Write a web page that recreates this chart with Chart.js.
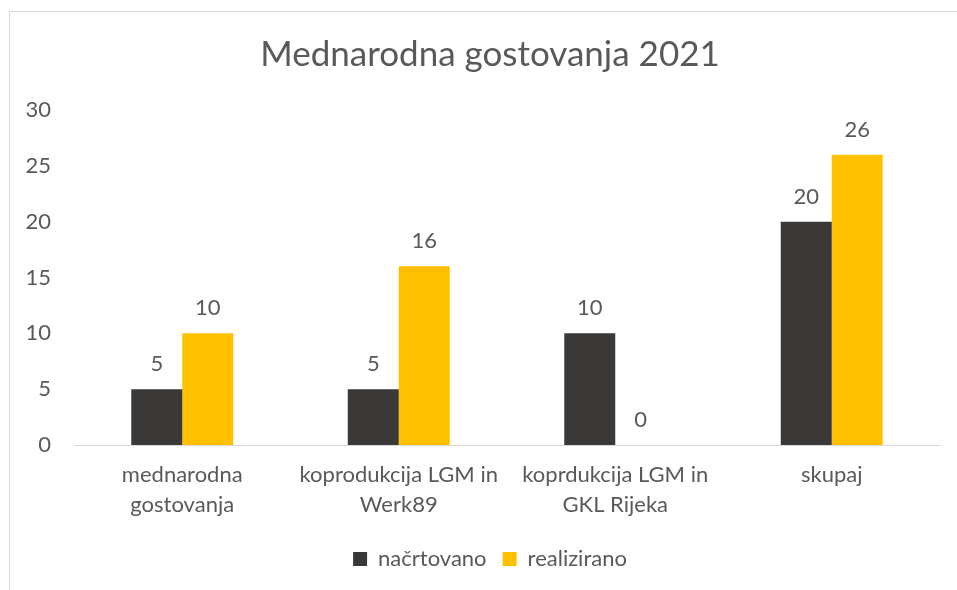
<!DOCTYPE html>
<html>
<head>
<meta charset="utf-8">
<script src="https://cdn.jsdelivr.net/npm/chart.js@4"></script>
<style>
  html, body { margin: 0; padding: 0; background: #fff; overflow: hidden; }
  #wrap { position: relative; width: 957px; height: 590px; }
  #frame { position: absolute; left: 9px; top: 11px; width: 1000px; height: 700px;
           border-left: 1px solid #d9d9d9; border-top: 1px solid #d9d9d9; }
  #myChart { position: absolute; left: 0; top: 0; }
</style>
</head>
<body>
<div id="wrap">
  <div id="frame"></div>
  <canvas id="myChart" width="957" height="590"></canvas>
</div>
<script>
// podatki
const kategorije = [
  ['mednarodna', 'gostovanja'],
  ['koprodukcija LGM in', 'Werk89'],
  ['koprdukcija LGM in', 'GKL Rijeka'],
  'skupaj'
]
const nacrtovano = [5, 5, 10, 20]
const realizirano = [10, 16, 0, 26]
const yTicks = [0, 5, 10, 15, 20, 25, 30]

const sivo = '#595959'
const pisava = 'Lato, Carlito, Calibri, sans-serif'

// oznake nad stolpci
const oznake = {
  id: 'oznake',
  afterDatasetsDraw(chart) {
    const ctx = chart.ctx
    ctx.save()
    ctx.font = '22px ' + pisava
    ctx.fillStyle = sivo
    ctx.textAlign = 'center'
    ctx.textBaseline = 'middle'
    chart.data.datasets.forEach((ds, i) => {
      chart.getDatasetMeta(i).data.forEach((bar, j) => {
        ctx.fillText(String(ds.data[j]), bar.x, bar.y - 25)
      })
    })
    ctx.restore()
  }
}

// naslov in legenda sta v Excelu centrirana na cel okvir, ne samo na graf
const zamik = {
  id: 'zamik',
  afterLayout(chart) {
    if (chart.titleBlock) chart.titleBlock.left += 40
    if (chart.legend) chart.legend.left += 40
  }
}

const ctx = document.getElementById('myChart')

const data = {
  labels: kategorije,
  datasets: [{
    label: 'načrtovano',
    data: nacrtovano,
    backgroundColor: '#3b3938',
    categoryPercentage: 0.471,
    barPercentage: 1
  }, {
    label: 'realizirano',
    data: realizirano,
    backgroundColor: '#ffc000',
    categoryPercentage: 0.471,
    barPercentage: 1
  }]
}

const config = {
  type: 'bar',
  data: data,
  options: {
    responsive: false,
    animation: false,
    layout: { padding: { left: 0, right: 17, top: 0, bottom: 10 } },
    plugins: {
      legend: {
        position: 'bottom',
        labels: {
          boxWidth: 14,
          boxHeight: 14,
          padding: 16,
          color: sivo,
          font: { family: pisava, size: 22 }
        }
      },
      title: {
        display: true,
        text: 'Mednarodna gostovanja 2021',
        color: sivo,
        font: { family: pisava, size: 35, weight: 'normal' },
        padding: { top: 34, bottom: 34 }
      },
      tooltip: { enabled: false }
    },
    scales: {
      x: {
        grid: { display: false, drawTicks: false },
        border: { display: true, color: '#d9d9d9', width: 1 },
        ticks: {
          color: sivo,
          padding: 15,
          maxRotation: 0,
          autoSkip: false,
          font: { family: pisava, size: 22, lineHeight: 1.364 }
        },
        afterFit(scale) { scale.height = 87 }
      },
      y: {
        min: 0,
        max: 30,
        grid: { display: false, drawTicks: false },
        border: { display: false },
        afterBuildTicks(scale) { scale.ticks = yTicks.map(v => ({ value: v })) },
        ticks: {
          color: sivo,
          padding: 23,
          font: { family: pisava, size: 22 }
        },
        afterFit(scale) { scale.width = 74 }
      }
    }
  },
  plugins: [oznake, zamik]
}

const myChart = new Chart(ctx, config)
</script>
</body>
</html>
